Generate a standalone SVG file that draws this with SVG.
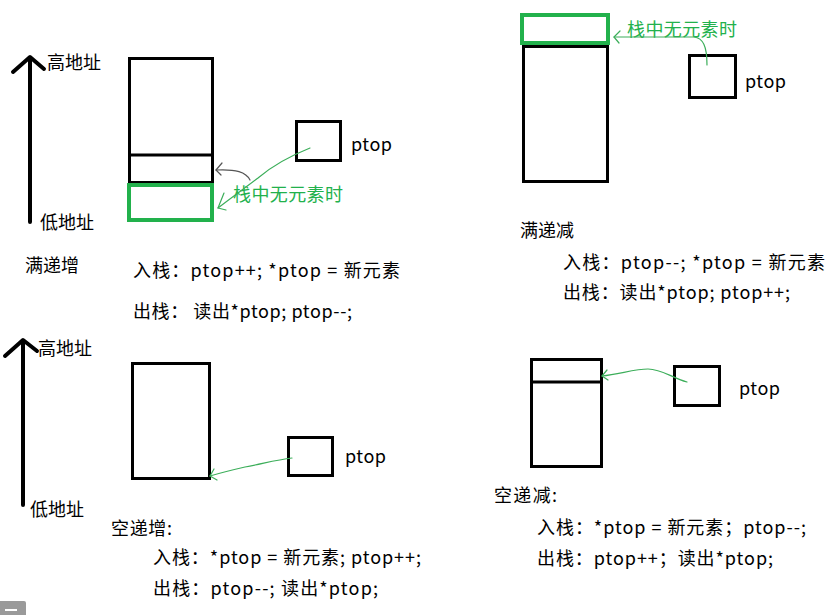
<svg xmlns="http://www.w3.org/2000/svg" width="830" height="615" viewBox="0 0 830 615">
<defs>
<style>
.t{font-family:"Noto Sans CJK SC","Noto Sans",sans-serif;font-size:18px;fill:#000}
.g{font-family:"Noto Sans CJK SC","Noto Sans",sans-serif;font-size:18px;fill:#22b14c}
.box{fill:#fff;stroke:#000;stroke-width:3}
.gbox{fill:#fff;stroke:#22b14c;stroke-width:4}
.axis{fill:none;stroke:#000;stroke-width:4;stroke-linecap:round;stroke-linejoin:round}
.gl{fill:none;stroke:#3cae5a;stroke-width:1.2;stroke-linecap:round;stroke-linejoin:round}
.kl{fill:none;stroke:#555;stroke-width:1.2;stroke-linecap:round;stroke-linejoin:round}
</style>
</defs>
<rect width="830" height="615" fill="#fff"/>

<!-- Top-left: 满递增 -->
<g id="tl-axis">
<path class="axis" d="M30,222 L30,58 M13,72 L30,57 L44,69"/>
<text class="t" x="47" y="69">高地址</text>
<text class="t" x="40" y="229">低地址</text>
</g>
<g id="tl-stack">
<rect class="box" x="129.5" y="58.5" width="83" height="124"/>
<line x1="129.5" y1="155" x2="212.5" y2="155" stroke="#000" stroke-width="3"/>
<rect class="gbox" x="129" y="185" width="83" height="35"/>
</g>
<g id="tl-ptop">
<rect class="box" x="296.5" y="121.5" width="44" height="39"/>
<text class="t" x="351" y="151" textLength="41">ptop</text>
</g>
<g id="tl-note">
<text class="g" x="233" y="201" textLength="110">栈中无元素时</text>
</g>
<g id="tl-text">
<text class="t" x="25" y="272">满递增</text>
<text class="t" x="133" y="277" textLength="267" lengthAdjust="spacing">入栈：ptop++; *ptop = 新元素</text>
<text class="t" x="133" y="318" textLength="219" lengthAdjust="spacing">出栈： 读出*ptop; ptop--;</text>
</g>

<!-- Top-right: 满递减 -->
<g id="tr-stack">
<rect class="gbox" x="522" y="15" width="86" height="28"/>
<rect class="box" x="523.5" y="46.5" width="84" height="135"/>
</g>
<g id="tr-ptop">
<rect class="box" x="689.5" y="55.5" width="46" height="42"/>
<text class="t" x="745" y="88" textLength="41">ptop</text>
</g>
<g id="tr-note">
<text class="g" x="627" y="36" textLength="110">栈中无元素时</text>
</g>
<g id="tr-text">
<text class="t" x="520" y="237">满递减</text>
<text class="t" x="563" y="269" textLength="262" lengthAdjust="spacing">入栈：ptop--;  *ptop = 新元素</text>
<text class="t" x="563" y="299" textLength="227" lengthAdjust="spacing">出栈：读出*ptop; ptop++;</text>
</g>

<!-- Bottom-left: 空递增 -->
<g id="bl-axis">
<path class="axis" d="M23,505 L23,341 M5,356 L23,340 L37,351"/>
<text class="t" x="38" y="355">高地址</text>
<text class="t" x="30" y="516">低地址</text>
</g>
<g id="bl-stack">
<rect class="box" x="132.5" y="363.5" width="77" height="115"/>
</g>
<g id="bl-ptop">
<rect class="box" x="288.5" y="437.5" width="44" height="38"/>
<text class="t" x="345" y="463" textLength="41">ptop</text>
</g>
<g id="bl-text">
<text class="t" x="111" y="535" textLength="61" lengthAdjust="spacing">空递增:</text>
<text class="t" x="153" y="564" textLength="268" lengthAdjust="spacing">入栈：*ptop = 新元素; ptop++;</text>
<text class="t" x="153" y="595" textLength="225" lengthAdjust="spacing">出栈：ptop--;  读出*ptop;</text>
</g>

<!-- Bottom-right: 空递减 -->
<g id="br-stack">
<rect class="box" x="531.5" y="359.5" width="70" height="107"/>
<line x1="531.5" y1="382" x2="601.5" y2="382" stroke="#000" stroke-width="3"/>
</g>
<g id="br-ptop">
<rect class="box" x="674.5" y="366.5" width="45" height="39"/>
<text class="t" x="739" y="395" textLength="41">ptop</text>
</g>
<g id="br-text">
<text class="t" x="494" y="502" textLength="63" lengthAdjust="spacing">空递减:</text>
<text class="t" x="537" y="534" textLength="269" lengthAdjust="spacing">入栈：*ptop = 新元素；ptop--;</text>
<text class="t" x="537" y="565" textLength="236" lengthAdjust="spacing">出栈：ptop++；读出*ptop;</text>
</g>

<!-- Connectors -->
<g id="connectors">
<path class="gl" d="M310,148 C290,156 272,166 258,178 C245,188 232,197 218,208"/>
<path class="gl" d="M224,193 L218,208 L226,210"/>
<path class="kl" d="M250,180 C246,172 236,169 216,170"/>
<path class="kl" d="M222,163 L216,170 L221,175"/>
<path class="gl" d="M707,65 C707,46 703,38 694,37 L614,37"/>
<path class="gl" d="M620,31 L614,37 L619,43"/>
<path class="gl" d="M292,458 C275,460 262,464 245,467 C232,470 220,473 210,476"/>
<path class="gl" d="M214,469 L210,476 L217,480"/>
<path class="gl" d="M687,382 C672,378 662,369 648,369 C635,369 620,374 602,376"/>
<path class="gl" d="M607,370 L602,376 L608,380"/>
</g>

<!-- corner tab -->
<path d="M0,601 L24,601 Q26,601 26,603 L26,615 L0,615 Z" fill="#9a9a9a"/>
<rect x="5" y="609" width="12" height="2" fill="#fff"/>
</svg>
